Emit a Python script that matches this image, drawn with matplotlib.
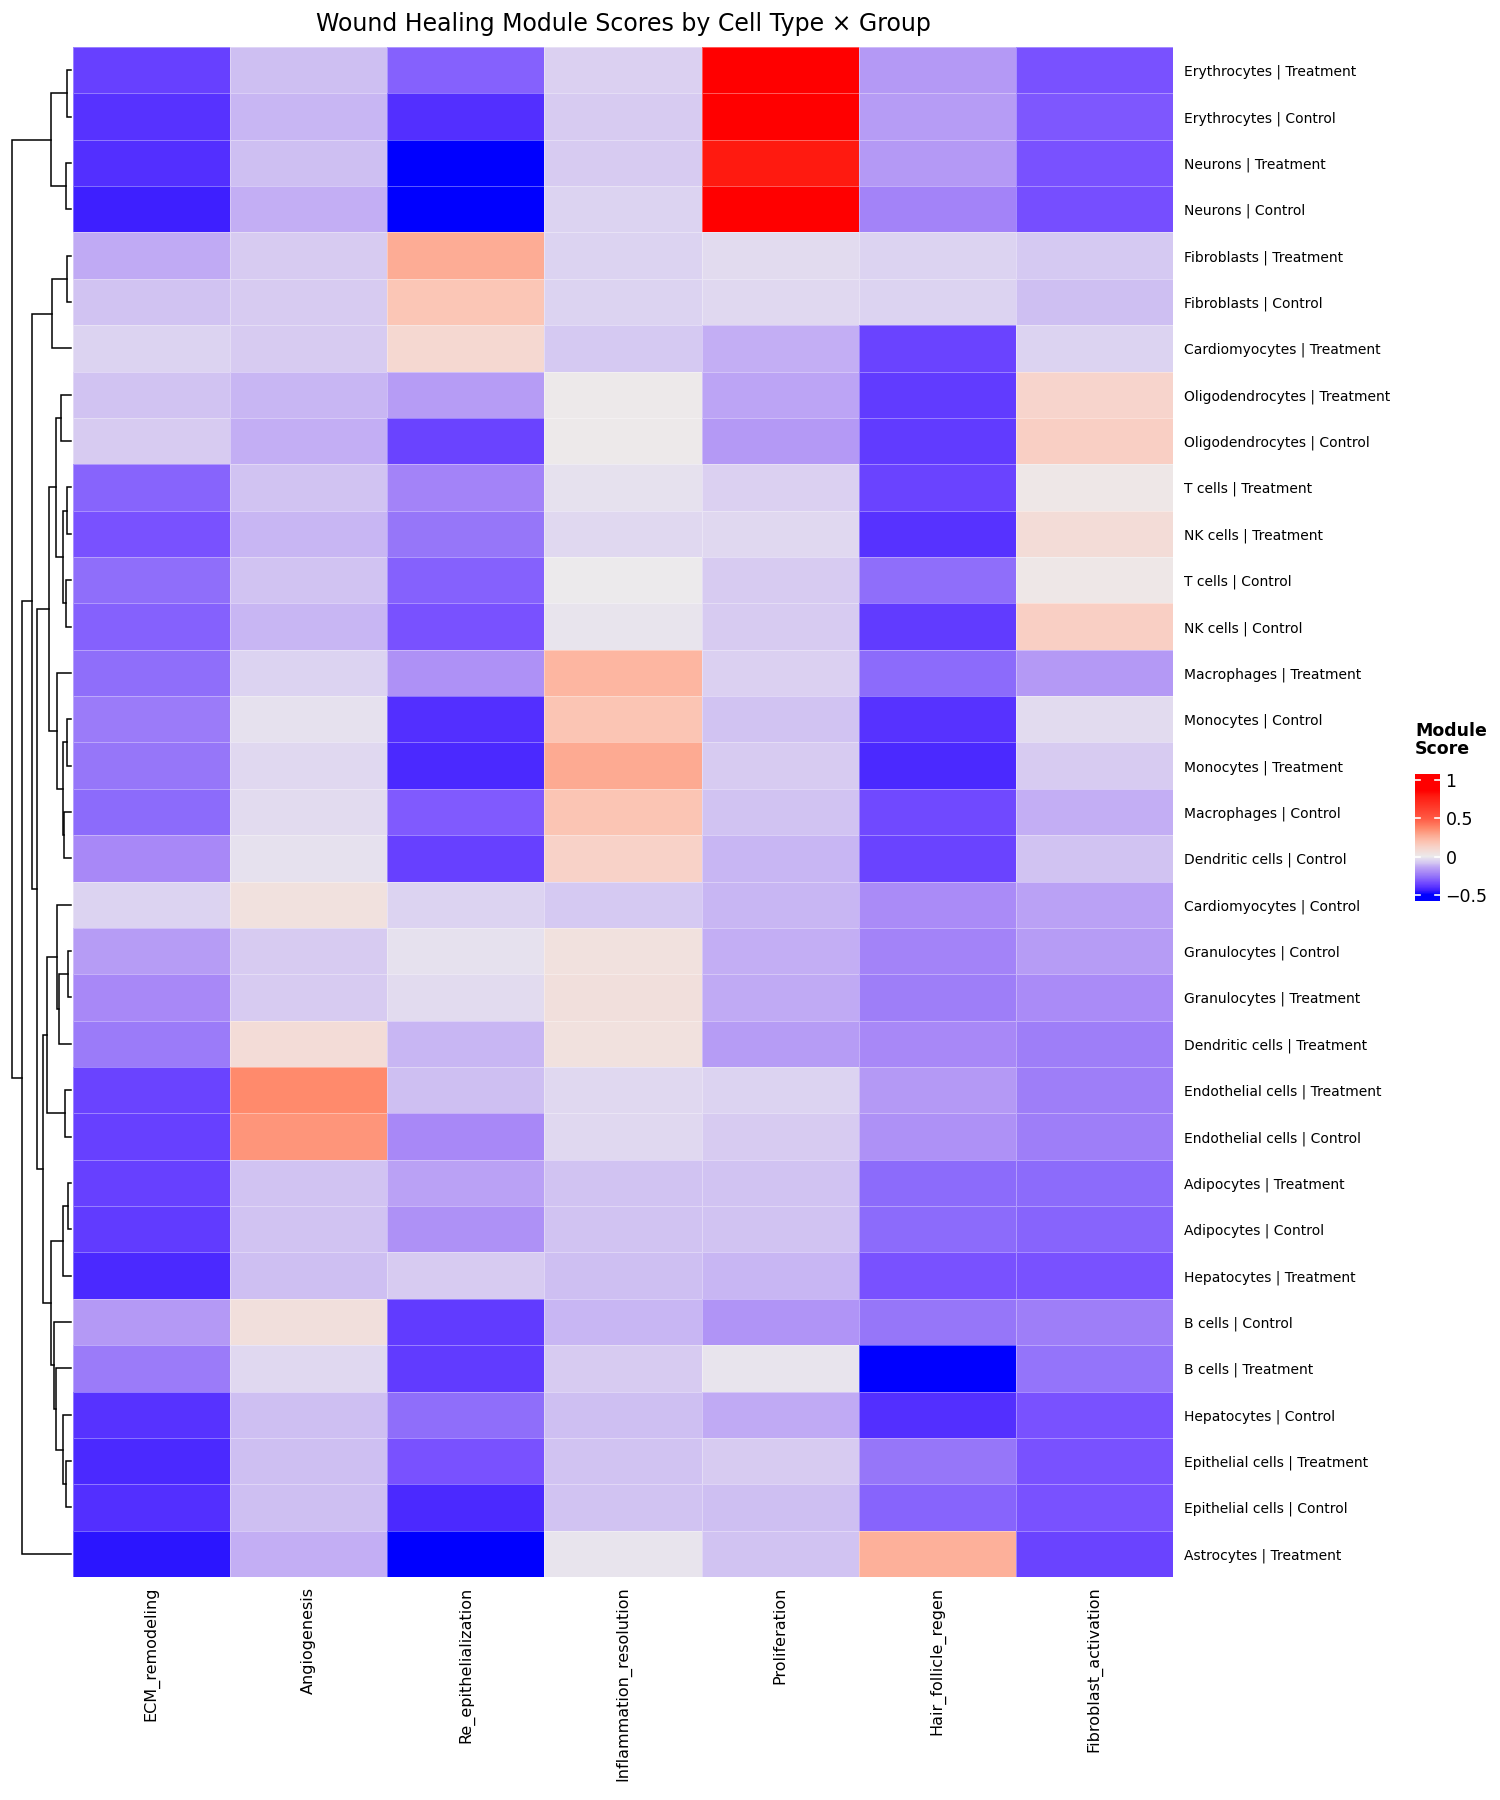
import matplotlib
matplotlib.use("Agg")
import matplotlib.pyplot as plt
import numpy as np
from matplotlib.colors import LinearSegmentedColormap, Normalize

# ---- data ----
modules = ["ECM_remodeling", "Angiogenesis", "Re_epithelialization",
           "Inflammation_resolution", "Proliferation", "Hair_follicle_regen",
           "Fibroblast_activation"]

row_labels = [
    "Erythrocytes | Treatment", "Erythrocytes | Control", "Neurons | Treatment",
    "Neurons | Control", "Fibroblasts | Treatment", "Fibroblasts | Control",
    "Cardiomyocytes | Treatment", "Oligodendrocytes | Treatment",
    "Oligodendrocytes | Control", "T cells | Treatment", "NK cells | Treatment",
    "T cells | Control", "NK cells | Control", "Macrophages | Treatment",
    "Monocytes | Control", "Monocytes | Treatment", "Macrophages | Control",
    "Dendritic cells | Control", "Cardiomyocytes | Control",
    "Granulocytes | Control", "Granulocytes | Treatment",
    "Dendritic cells | Treatment", "Endothelial cells | Treatment",
    "Endothelial cells | Control", "Adipocytes | Treatment",
    "Adipocytes | Control", "Hepatocytes | Treatment", "B cells | Control",
    "B cells | Treatment", "Hepatocytes | Control",
    "Epithelial cells | Treatment", "Epithelial cells | Control",
    "Astrocytes | Treatment",
]

ecm = [-0.37, -0.40, -0.41, -0.44, -0.13, -0.09, -0.05, -0.09, -0.07, -0.29, -0.33,
       -0.27, -0.30, -0.27, -0.24, -0.25, -0.28, -0.21, -0.05, -0.16, -0.21, -0.24,
       -0.36, -0.37, -0.37, -0.38, -0.42, -0.17, -0.24, -0.40, -0.42, -0.41, -0.46]
angio = [-0.10, -0.11, -0.10, -0.12, -0.07, -0.07, -0.07, -0.11, -0.12, -0.09, -0.11,
         -0.09, -0.11, -0.05, -0.02, -0.04, -0.03, -0.02, 0.05, -0.07, -0.07, 0.08,
         0.37, 0.34, -0.09, -0.09, -0.10, 0.06, -0.04, -0.10, -0.10, -0.10, -0.12]
re_epi = [-0.30, -0.41, -0.56, -0.56, 0.27, 0.18, 0.10, -0.16, -0.36, -0.22, -0.25,
          -0.30, -0.33, -0.19, -0.41, -0.42, -0.31, -0.37, -0.05, -0.02, -0.03, -0.11,
          -0.10, -0.21, -0.15, -0.19, -0.07, -0.38, -0.38, -0.27, -0.33, -0.42, -0.57]
inflam = [-0.06, -0.07, -0.07, -0.05, -0.05, -0.05, -0.08, 0.01, 0.01, -0.02, -0.04,
          0.00, -0.01, 0.24, 0.19, 0.28, 0.19, 0.13, -0.08, 0.05, 0.06, 0.05,
          -0.04, -0.04, -0.09, -0.09, -0.10, -0.11, -0.07, -0.10, -0.09, -0.09, -0.01]
prolif = [1.00, 0.98, 0.80, 1.05, -0.03, -0.04, -0.12, -0.14, -0.17, -0.06, -0.04,
          -0.07, -0.07, -0.06, -0.09, -0.07, -0.09, -0.11, -0.11, -0.12, -0.13, -0.16,
          -0.05, -0.07, -0.09, -0.09, -0.11, -0.18, -0.01, -0.13, -0.07, -0.10, -0.09]
hair = [-0.17, -0.16, -0.17, -0.22, -0.05, -0.05, -0.36, -0.38, -0.38, -0.36, -0.40,
        -0.27, -0.38, -0.28, -0.40, -0.42, -0.35, -0.36, -0.20, -0.22, -0.23, -0.21,
        -0.17, -0.19, -0.28, -0.28, -0.33, -0.25, -0.56, -0.41, -0.25, -0.29, 0.26]
fibro = [-0.33, -0.32, -0.33, -0.34, -0.08, -0.10, -0.05, 0.12, 0.14, 0.02, 0.08,
         0.02, 0.14, -0.17, -0.03, -0.07, -0.12, -0.09, -0.15, -0.16, -0.20, -0.23,
         -0.23, -0.23, -0.28, -0.29, -0.33, -0.23, -0.26, -0.33, -0.33, -0.33, -0.36]

# row dendrogram: (left, right, height); ids >= 33 refer to earlier merges
merges = [
    (0, 1, 0.43), (2, 3, 0.53), (33, 34, 2.0), (4, 5, 0.43), (36, 6, 1.93),
    (7, 8, 1.0), (9, 10, 0.43), (11, 12, 0.53), (39, 40, 0.77), (38, 41, 1.5),
    (14, 15, 0.43), (16, 17, 0.67), (43, 44, 0.83), (13, 45, 1.43), (42, 46, 2.2),
    (19, 20, 0.33), (48, 21, 1.2), (18, 49, 1.43), (22, 23, 0.6), (50, 51, 2.37),
    (24, 25, 0.27), (53, 26, 0.83), (30, 31, 0.5), (29, 55, 0.77), (28, 56, 1.5),
    (27, 57, 1.67), (54, 58, 2.03), (52, 59, 2.77), (47, 60, 3.43), (37, 61, 3.87),
    (62, 32, 4.93), (35, 63, 5.93),
]

# ---- colour scale ----
vmin, vmax = -0.58, 1.08
stops = [(-0.58, "#0000FF"), (-0.5, "#0000FF"), (-0.45, "#3A1CFF"), (-0.4, "#5A34FF"),
         (-0.33, "#7A52FF"), (-0.27, "#9070FA"), (-0.21, "#A888F7"), (-0.13, "#C0AAF4"),
         (-0.09, "#D2C4F2"), (-0.04, "#E0D8F0"), (0.0, "#ECEAEC"), (0.13, "#F8D2C8"),
         (0.2, "#FCC2B0"), (0.28, "#FDAA92"), (0.37, "#FF8A6C"), (0.5, "#FF5A44"),
         (0.8, "#FF1A10"), (0.87, "#FF0000"), (1.08, "#FF0000")]
cmap = LinearSegmentedColormap.from_list(
    "module", [((v - vmin) / (vmax - vmin), c) for v, c in stops])
norm = Normalize(vmin, vmax)

mat = np.column_stack([ecm, angio, re_epi, inflam, prolif, hair, fibro])
n_rows, n_cols = mat.shape

W, H = 1500, 1800
fig = plt.figure(figsize=(15, 18), dpi=100)

# heatmap
hx0, hx1, hy0, hy1 = 73, 1173, 47, 1577
ax = fig.add_axes([hx0 / W, 1 - hy1 / H, (hx1 - hx0) / W, (hy1 - hy0) / H])
ax.pcolormesh(np.arange(n_cols + 1), np.arange(n_rows + 1), mat, cmap=cmap, norm=norm,
              edgecolors=(1, 1, 1, 0.35), linewidth=0.5)
ax.set_xlim(0, n_cols)
ax.set_ylim(n_rows, 0)
for s in ax.spines.values():
    s.set_visible(False)
ax.tick_params(length=0)
ax.set_xticks(np.arange(n_cols) + 0.5)
ax.set_xticklabels(modules, rotation=90, fontsize=11.5, va="top", ha="center")
ax.tick_params(axis="x", pad=7)
ax.yaxis.tick_right()
ax.set_yticks(np.arange(n_rows) + 0.5)
ax.set_yticklabels(row_labels, fontsize=10)
ax.tick_params(axis="y", pad=8)

# dendrogram
dax = fig.add_axes([0, 1 - hy1 / H, hx0 / W, (hy1 - hy0) / H])
pos = {i: (i + 0.5, 0.0) for i in range(n_rows)}
for k, (a, b, h) in enumerate(merges):
    ya, ha = pos[a]
    yb, hb = pos[b]
    dax.plot([ha, h, h, hb], [ya, ya, yb, yb], color="black", lw=1.1,
             solid_joinstyle="miter")
    pos[n_rows + k] = ((ya + yb) / 2, h)
dax.set_xlim(7.1, -0.2)
dax.set_ylim(n_rows, 0)
dax.axis("off")

fig.text((hx0 + hx1) / 2 / W, 1 - 24 / H,
         "Wound Healing Module Scores by Cell Type \u00d7 Group",
         ha="center", va="center", fontsize=17)

# colour legend
cx0, cx1, cy0, cy1 = 1415, 1440, 774, 901
cax = fig.add_axes([cx0 / W, 1 - cy1 / H, (cx1 - cx0) / W, (cy1 - cy0) / H])
grad = np.linspace(vmin, vmax, 300).reshape(-1, 1)
cax.imshow(grad, aspect="auto", origin="lower", cmap=cmap, norm=norm,
           extent=(0, 1, vmin, vmax))
cax.set_xlim(0, 1)
cax.set_ylim(vmin, vmax)
legend_ticks = [-0.5, 0, 0.5, 1]
legend_tick_labels = ["\u22120.5", "0", "0.5", "1"]
for t in legend_ticks:
    cax.plot([0, 0.2], [t, t], color="white", lw=1.2)
    cax.plot([0.8, 1], [t, t], color="white", lw=1.2)
cax.set_xticks([])
cax.yaxis.tick_right()
cax.set_yticks(legend_ticks)
cax.set_yticklabels(legend_tick_labels, fontsize=12.5)
cax.tick_params(axis="y", length=0, pad=4)
for s in cax.spines.values():
    s.set_visible(False)
fig.text(cx0 / W, 1 - 722 / H, "Module\nScore", ha="left", va="top",
         fontsize=12.5, fontweight="bold", linespacing=1.0)

fig.savefig("out.png", dpi=100)
